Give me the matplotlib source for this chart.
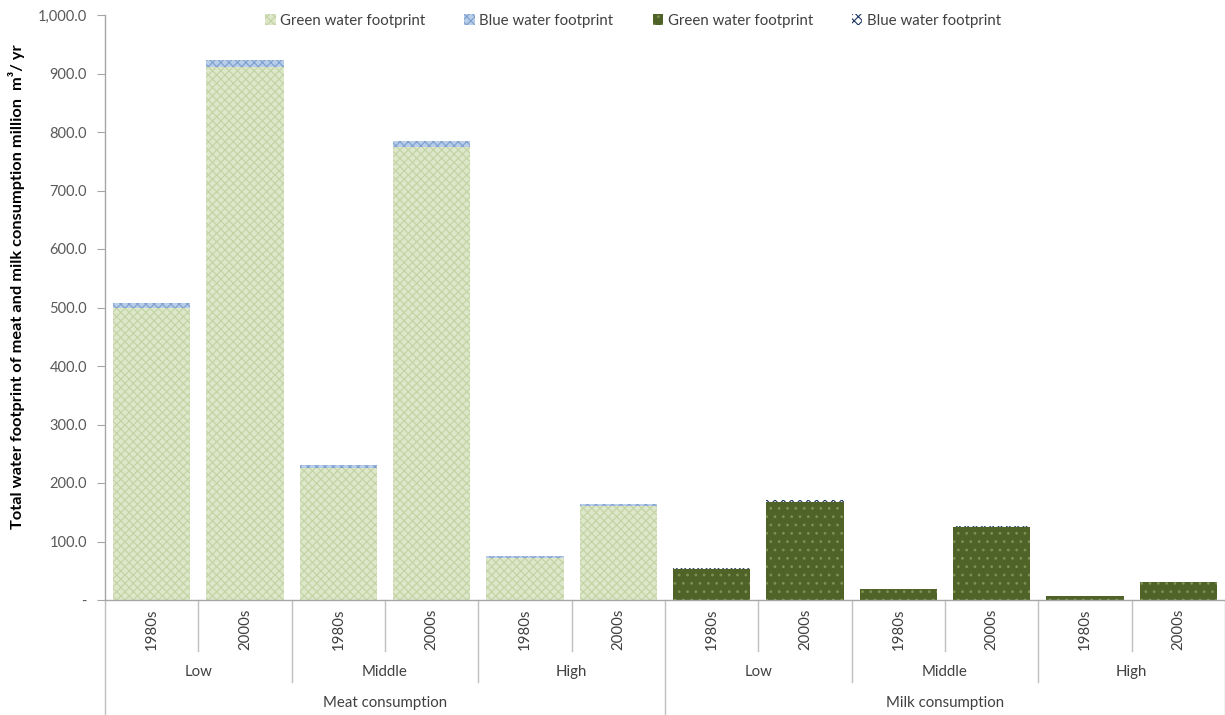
import matplotlib
matplotlib.use("Agg")
import matplotlib.pyplot as plt
import numpy as np
from matplotlib.lines import Line2D
from matplotlib.ticker import FuncFormatter

plt.rcParams['font.family'] = ['Lato', 'DejaVu Sans']
plt.rcParams['hatch.linewidth'] = 0.8

# Water footprint data (million m3 / yr)
products = ["Meat consumption", "Milk consumption"]
levels = ["Low", "Middle", "High"]
periods = ["1980s", "2000s"]

meat_green = [500, 911, 226, 775, 72, 161]
meat_blue = [7, 12, 5, 10, 3, 3]
milk_green = [53, 167, 18, 124, 6, 30]
milk_blue = [1, 4, 1, 3, 0.6, 1]

yticks = [0, 100, 200, 300, 400, 500, 600, 700, 800, 900, 1000]

W, H = 1225, 715
fig = plt.figure(figsize=(W / 100, H / 100), dpi=100)
ax = fig.add_axes([105 / W, 1 - 600 / H, (W - 105) / W, (600 - 15) / H])

n_meat = len(meat_green)
x_meat = np.arange(n_meat)
x_milk = np.arange(len(milk_green)) + n_meat
bw = 0.83

ax.bar(x_meat, meat_green, bw, facecolor='#dde7c9', edgecolor='#c2d3a3',
       hatch='xxxx', linewidth=0, label='Green water footprint')
ax.bar(x_meat, meat_blue, bw, bottom=meat_green, facecolor='#b7cde8',
       edgecolor='#7f9fcf', hatch='xxxx', linewidth=0, label='Blue water footprint')
ax.bar(x_milk, milk_green, bw, facecolor='#4f6228', edgecolor='#7d9152',
       hatch='..', linewidth=0, label='Green water footprint')
ax.bar(x_milk, milk_blue, bw, bottom=milk_green, facecolor='#ffffff',
       edgecolor='#1f3864', hatch='xxxx', linewidth=0, label='Blue water footprint')

ax.set_xlim(-0.5, 11.5)
ax.set_ylim(0, 1000)
ax.set_yticks(yticks)
ax.yaxis.set_major_formatter(FuncFormatter(lambda v, p: '-' if v == 0 else f'{v:,.1f}'))
ax.tick_params(axis='y', direction='out', length=6, color='#a6a6a6',
               labelsize=10.5, labelcolor='#595959', pad=7)
ax.set_xticks([])
for s in ['top', 'right']:
    ax.spines[s].set_visible(False)
for s in ['left', 'bottom']:
    ax.spines[s].set_color('#a6a6a6')
    ax.spines[s].set_linewidth(1)

ax.set_ylabel('Total water footprint of meat and milk consumption million  m³/ yr',
              fontsize=11.8, fontweight='bold', color='#000000')
ax.yaxis.set_label_coords(-80 / (W - 105), 0.535)

# Hierarchical category axis
tr = ax.get_xaxis_transform()
axh = 600 - 15


def yfrac(py):
    return (600 - py) / axh


sep_col = '#bfbfbf'
txt_col = '#404040'
labels_period = periods * (len(levels) * len(products))
for i, lab in enumerate(labels_period):
    ax.text(i, yfrac(629), lab, transform=tr, rotation=90, ha='center',
            va='center', fontsize=10.8, color=txt_col, clip_on=False)

for i in range(len(labels_period)):
    x = i + 0.5
    if i % 2 == 0:
        y_end = 651
    elif i % 6 != 5:
        y_end = 682
    else:
        continue
    ax.add_line(Line2D([x, x], [0, yfrac(y_end)], transform=tr, color=sep_col,
                       lw=1, clip_on=False))

for x in [-0.5, 5.5, 11.5]:
    ax.add_line(Line2D([x, x], [0, yfrac(716)], transform=tr, color=sep_col,
                       lw=1, clip_on=False))

for pi, prod in enumerate(products):
    for li, lev in enumerate(levels):
        xc = pi * 6 + li * 2 + 0.5
        ax.text(xc, yfrac(672), lev, transform=tr, ha='center', va='center',
                fontsize=10.8, color=txt_col, clip_on=False)
    ax.text(pi * 6 + 2.5, yfrac(703), prod, transform=tr, ha='center',
            va='center', fontsize=10.8, color=txt_col, clip_on=False)

leg = ax.legend(ncol=4, loc='upper center', bbox_to_anchor=(0.4715, 1.0 + 15 / axh),
                frameon=False, fontsize=10.8, handlelength=0.7, handleheight=0.7,
                handletextpad=0.3, columnspacing=2.6, labelcolor=txt_col)

fig.savefig('out.png', dpi=100, facecolor='white')
